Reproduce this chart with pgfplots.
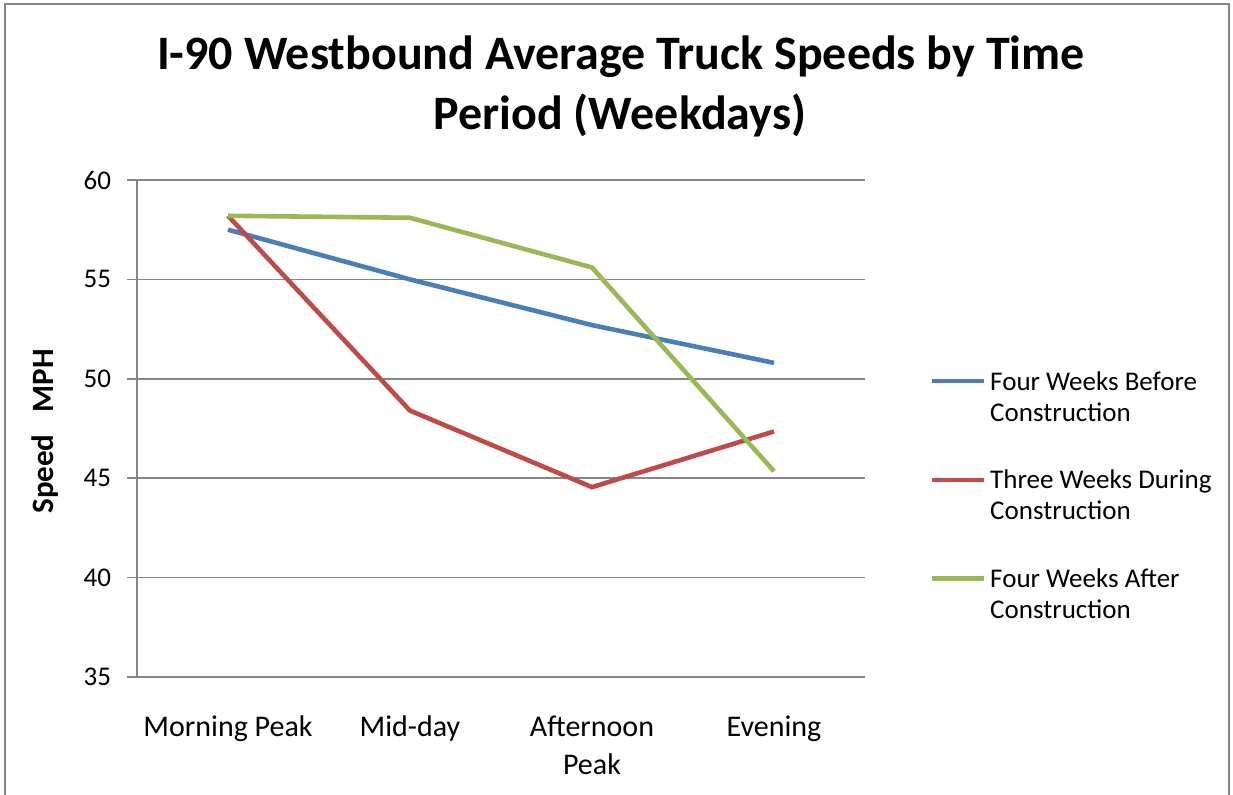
\documentclass[border=0pt]{standalone}
\usepackage{pgfplots}
\pgfplotsset{compat=1.18}
\usepackage{fontspec}
\setmainfont{Carlito}
\definecolor{sblue}{RGB}{74,126,187}
\definecolor{sred}{RGB}{190,75,72}
\definecolor{sgreen}{RGB}{152,185,84}
\definecolor{gline}{RGB}{134,134,134}
\begin{document}
\begin{tikzpicture}
\useasboundingbox (0,0) rectangle (616.5pt,397.5pt);
\draw[gline, line width=0.8pt] (2.5pt,0pt) -- (2.5pt,395.5pt) -- (614.5pt,395.5pt) -- (614.5pt,0pt);
\node[anchor=base, font=\fontsize{24}{28}\selectfont\bfseries] at (310.5pt,362.5pt) {I-90 Westbound Average Truck Speeds by Time};
\node[anchor=base, font=\fontsize{24}{28}\selectfont\bfseries] at (310pt,332.5pt) {Period (Weekdays)};
\begin{axis}[
  at={(68.5pt,59pt)}, anchor=south west,
  scale only axis, width=364pt, height=248.5pt,
  xmin=-0.5, xmax=3.5, ymin=35, ymax=60,
  xtick={0,1,2,3},
  xticklabels={Morning Peak, Mid-day, {Afternoon\\Peak}, Evening},
  ytick={35,40,45,50,55,60},
  axis x line*=bottom, axis y line*=left,
  axis line style={-, draw=gline, line width=0.8pt},
  ymajorgrids, major grid style={draw=gline, line width=0.8pt},
  x tick style={draw=none},
  y tick style={draw=gline, line width=0.8pt},
  tick align=outside, major tick length=5pt,
  /pgf/number format/assume math mode=true,
  yticklabel style={font=\fontsize{13.5}{16}\selectfont, xshift=-4.5pt},
  xticklabel style={font=\fontsize{15}{19}\selectfont, align=center, yshift=-11pt},
  ylabel={Speed\hspace{11pt}MPH},
  ylabel style={font=\fontsize{15.5}{18}\selectfont\bfseries,
    at={(axis description cs:-0.1264,0.494)}, anchor=center},
  legend style={at={(1.08,0.632)}, anchor=north west, draw=none, fill=none,
    font=\fontsize{13.5}{15.5}\selectfont, row sep=19pt,
    nodes={align=left}},
  legend cell align=left,
  legend image code/.code={\draw[#1] (0pt,8.3pt) -- (26pt,8.3pt);},
  every axis plot/.append style={line width=2.3pt},
]
\addplot[sblue] coordinates {(0,57.5) (1,55.0) (2,52.7) (3,50.8)};
\addplot[sred] coordinates {(0,58.2) (1,48.4) (2,44.55) (3,47.35)};
\addplot[sgreen] coordinates {(0,58.2) (1,58.1) (2,55.6) (3,45.35)};
\legend{{Four Weeks Before\\Construction},{Three Weeks During\\Construction},{Four Weeks After\\Construction}}
\end{axis}
\end{tikzpicture}
\end{document}
